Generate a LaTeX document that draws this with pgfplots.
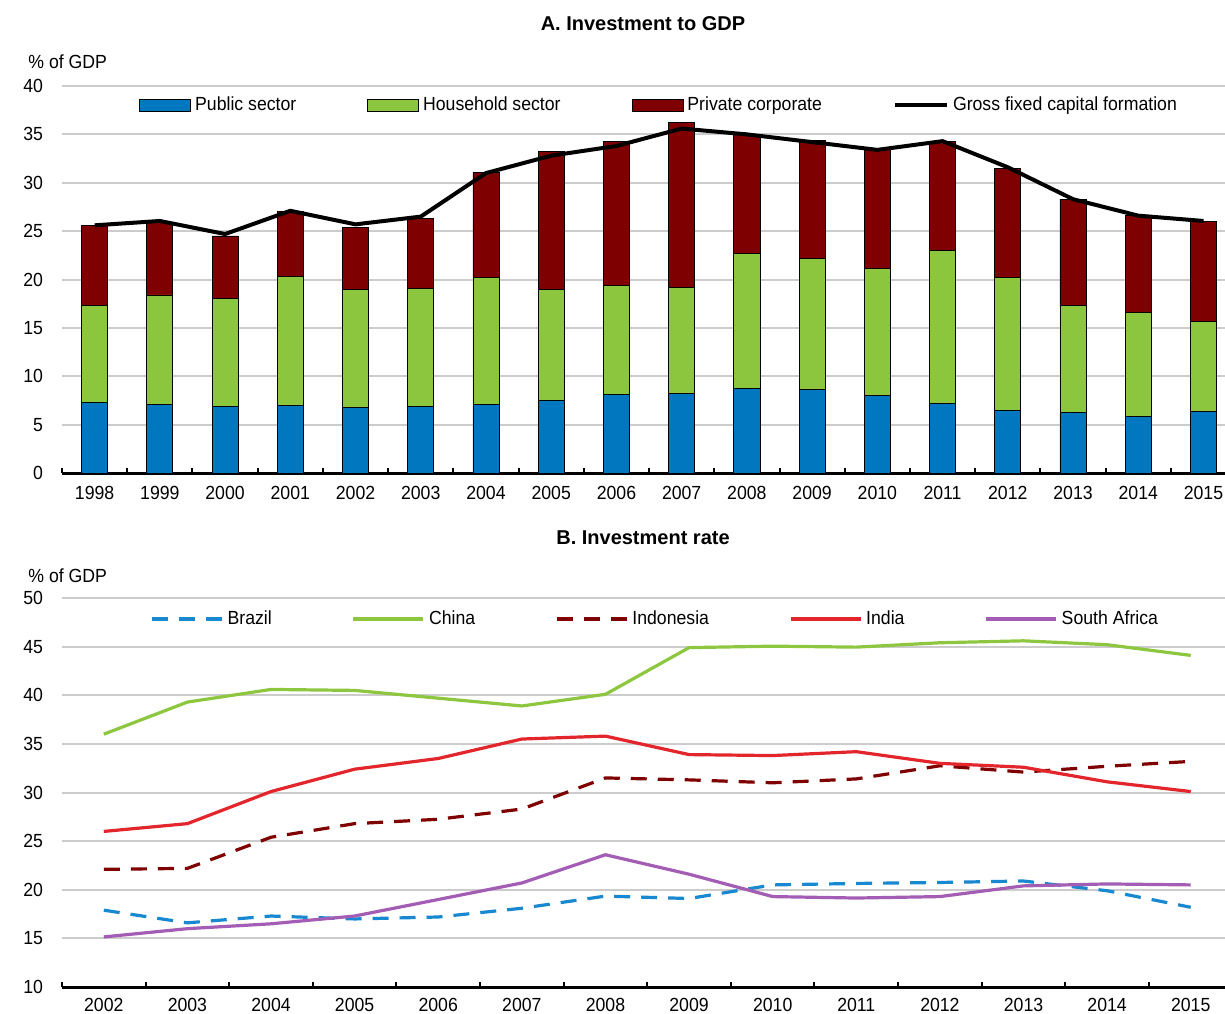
\documentclass[border=0pt]{standalone}
\usepackage{fontspec}
\setmainfont{Liberation Sans}[FakeStretch=0.93]
\newfontfamily\titlefont{Liberation Sans}
\usepackage{pgfplots}
\usepackage{pgfplotstable}
\pgfplotsset{compat=1.18}

\definecolor{pubblue}{RGB}{0,119,190}
\definecolor{hhgreen}{RGB}{140,198,63}
\definecolor{privred}{RGB}{127,0,0}
\definecolor{gridgray}{RGB}{204,204,204}
\definecolor{brazil}{RGB}{24,137,208}
\definecolor{china}{RGB}{141,198,63}
\definecolor{indonesia}{RGB}{127,0,0}
\definecolor{india}{RGB}{226,38,44}
\definecolor{safrica}{RGB}{163,93,181}

% panel A: shares of GDP, stacked (public, household, private) + GFCF line
\pgfplotstableread{
x pub  hh    priv  gfcf
0 7.30 10.00 8.30  25.60
1 7.10 11.30 7.50  26.05
2 6.90 11.10 6.50  24.70
3 7.00 13.30 6.70  27.10
4 6.80 12.20 6.40  25.70
5 6.90 12.20 7.20  26.50
6 7.05 13.15 10.90 31.00
7 7.50 11.50 14.20 32.80
8 8.10 11.25 14.95 33.80
9 8.25 10.95 17.00 35.60
10 8.75 13.95 12.30 35.00
11 8.60 13.60 12.20 34.20
12 8.00 13.10 12.40 33.40
13 7.20 15.80 11.30 34.30
14 6.50 13.70 11.30 31.60
15 6.30 11.00 11.00 28.30
16 5.80 10.80 10.00 26.60
17 6.40 9.30  10.30 26.05
}\topdata

\pgfplotsset{
  panel/.style={
    scale only axis, width=581.5pt,
    axis x line*=bottom, axis y line*=left,
    x axis line style={-, line width=1.5pt},
    y axis line style={draw=none},
    ytick style={draw=none},
    major x tick style={draw=none},
    minor x tick style={black, line width=1pt},
    minor tick length=2.5pt,
    tick align=inside,
    ymajorgrids, grid style={gridgray, line width=1pt},
    font=\fontsize{9.5}{11}\selectfont,
    /pgf/number format/assume math mode=true,
    yticklabel style={xshift=-6pt},
    xticklabel style={yshift=-3pt},
    legend style={draw=none, fill=none, inner sep=0pt,
      font=\fontsize{9.5}{11}\selectfont},
  },
  barlegend/.style={legend image code/.code={\draw[##1] (0pt,-3pt) rectangle (25.5pt,3pt);}},
  linelegend/.style={legend image code/.code={\draw[##1] (0pt,0pt) -- (26pt,0pt);}},
}

\begin{document}
\begin{tikzpicture}
\useasboundingbox (0,0) rectangle (612.5pt,-506.5pt);

\node[font=\fontsize{10}{12}\selectfont\titlefont\bfseries] at (321.5pt,-12pt) {A. Investment to GDP};
\node[anchor=west, inner sep=0pt, font=\fontsize{9.5}{11}\selectfont] at (14pt,-31pt) {\% of GDP};

\begin{axis}[panel,
  at={(31pt,-236.5pt)}, anchor=south west, height=193.5pt,
  ybar stacked, bar width=0.4,
  xmin=-0.5, xmax=17.33, ymin=0, ymax=40, ytick={0,5,...,40},
  xtick={0,...,17},
  xticklabels={1998,1999,2000,2001,2002,2003,2004,2005,2006,2007,2008,2009,2010,2011,2012,2013,2014,2015},
  minor xtick={-0.5,0.5,...,16.5},
  legend columns=4,
  legend style={at={(0.0662,0.951)}, anchor=west,
    /tikz/every even column/.append style={column sep=33.5pt}},
]
\addplot[barlegend, fill=pubblue, draw=black, line width=0.4pt] table[x=x, y=pub] {\topdata};
\addlegendentry{Public sector}
\addplot[barlegend, fill=hhgreen, draw=black, line width=0.4pt] table[x=x, y=hh] {\topdata};
\addlegendentry{Household sector}
\addplot[barlegend, fill=privred, draw=black, line width=0.4pt] table[x=x, y=priv] {\topdata};
\addlegendentry{Private corporate}
\addlegendimage{linelegend, black, line width=2pt}
\addlegendentry{Gross fixed capital formation}
\end{axis}

% GFCF line on top of the bars
\begin{axis}[at={(31pt,-236.5pt)}, anchor=south west, scale only axis,
  width=581.5pt, height=193.5pt,
  xmin=-0.5, xmax=17.33, ymin=0, ymax=40, hide axis]
\addplot[black, line width=2pt] table[x=x, y=gfcf] {\topdata};
\end{axis}

\node[font=\fontsize{10}{12}\selectfont\titlefont\bfseries] at (321.5pt,-269pt) {B. Investment rate};
\node[anchor=west, inner sep=0pt, font=\fontsize{9.5}{11}\selectfont] at (14pt,-288pt) {\% of GDP};

\begin{axis}[panel,
  at={(31pt,-493.5pt)}, anchor=south west, height=194.5pt,
  xmin=-0.5, xmax=13.41, ymin=10, ymax=50, ytick={10,15,...,50},
  xtick={0,...,13},
  xticklabels={2002,2003,2004,2005,2006,2007,2008,2009,2010,2011,2012,2013,2014,2015},
  xticklabel style={yshift=0.8pt},
  minor xtick={-0.5,0.5,...,12.5},
  legend columns=5,
  legend style={at={(0.0757,0.946)}, anchor=west,
    /tikz/every even column/.append style={column sep=38pt}},
  legend image code/.code={\draw[#1] (0pt,0pt) -- (35pt,0pt);},
  every axis plot/.append style={line width=1.6pt},
]
\addplot[brazil, dash pattern=on 8pt off 5.5pt] coordinates {
  (0,17.9) (1,16.6) (2,17.3) (3,17.0) (4,17.2) (5,18.1) (6,19.35)
  (7,19.1) (8,20.5) (9,20.65) (10,20.75) (11,20.9) (12,19.9) (13,18.2)};
\addlegendentry{Brazil}
\addplot[china] coordinates {
  (0,36.0) (1,39.3) (2,40.6) (3,40.5) (4,39.7) (5,38.9) (6,40.1)
  (7,44.9) (8,45.05) (9,44.95) (10,45.4) (11,45.6) (12,45.2) (13,44.1)};
\addlegendentry{China}
\addplot[indonesia, dash pattern=on 8pt off 5.5pt] coordinates {
  (0,22.1) (1,22.2) (2,25.4) (3,26.8) (4,27.25) (5,28.3) (6,31.5)
  (7,31.3) (8,31.0) (9,31.4) (10,32.75) (11,32.1) (12,32.7) (13,33.2)};
\addlegendentry{Indonesia}
\addplot[india] coordinates {
  (0,26.0) (1,26.8) (2,30.1) (3,32.4) (4,33.5) (5,35.5) (6,35.8)
  (7,33.9) (8,33.8) (9,34.2) (10,33.0) (11,32.6) (12,31.1) (13,30.1)};
\addlegendentry{India}
\addplot[safrica] coordinates {
  (0,15.15) (1,16.0) (2,16.5) (3,17.3) (4,19.0) (5,20.7) (6,23.6)
  (7,21.6) (8,19.3) (9,19.15) (10,19.3) (11,20.4) (12,20.6) (13,20.5)};
\addlegendentry{South Africa}
\end{axis}
\end{tikzpicture}
\end{document}
